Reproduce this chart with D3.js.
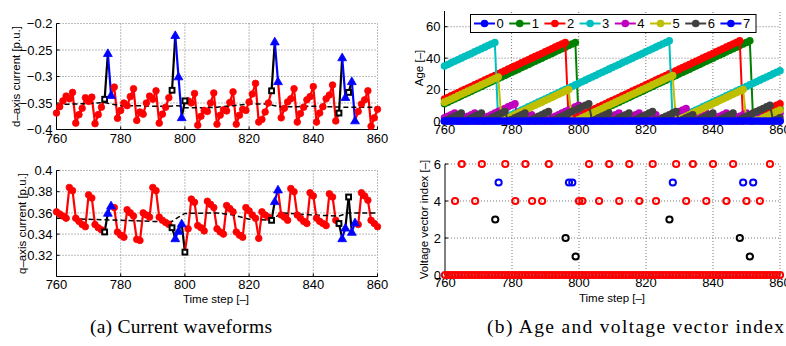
<!DOCTYPE html>
<html>
<head>
<meta charset="utf-8">
<script src="https://cdn.jsdelivr.net/npm/d3@7"></script>
<style>
  body { margin: 0; background: #fff; }
  svg { display: block; }
  text { font-family: "Liberation Sans", Arial, sans-serif; fill: #000; }
</style>
</head>
<body>
<svg id="chart" width="786" height="346"></svg>
<script>
// time axis shared by all four panels
const timeSteps = d3.range(760, 861);
const xTicks = [760, 780, 800, 820, 840, 860];

// (a) d-axis current, one value per time step
const idCurrent = [
  -0.369, -0.357, -0.346, -0.337, -0.342, -0.330, -0.388, -0.372, -0.360, -0.340,
  -0.347, -0.339, -0.389, -0.372, -0.358, -0.343, -0.256, -0.335, -0.320, -0.379,
  -0.364, -0.350, -0.355, -0.338, -0.323, -0.383, -0.367, -0.371, -0.350, -0.337,
  -0.343, -0.327, -0.388, -0.371, -0.358, -0.340, -0.326, -0.222, -0.300, -0.377,
  -0.346, -0.346, -0.350, -0.332, -0.392, -0.375, -0.364, -0.366, -0.350, -0.331,
  -0.390, -0.373, -0.363, -0.365, -0.349, -0.329, -0.390, -0.373, -0.362, -0.364,
  -0.348, -0.333, -0.313, -0.386, -0.381, -0.367, -0.350, -0.327, -0.234, -0.309,
  -0.378, -0.360, -0.348, -0.342, -0.323, -0.386, -0.370, -0.358, -0.344, -0.338,
  -0.319, -0.386, -0.369, -0.357, -0.342, -0.335, -0.316, -0.384, -0.369, -0.264,
  -0.339, -0.330, -0.309, -0.383, -0.366, -0.352, -0.344, -0.327, -0.394, -0.378,
  -0.362
];

// (a) q-axis current, one value per time step
const iqCurrent = [
  0.361, 0.359, 0.357, 0.355, 0.384, 0.381, 0.355, 0.352, 0.349, 0.347,
  0.377, 0.374, 0.349, 0.346, 0.344, 0.342, 0.360, 0.367, 0.365, 0.342,
  0.339, 0.337, 0.363, 0.360, 0.357, 0.335, 0.334, 0.360, 0.358, 0.356,
  0.384, 0.381, 0.356, 0.353, 0.351, 0.349, 0.346, 0.336, 0.343, 0.350,
  0.323, 0.345, 0.373, 0.370, 0.348, 0.346, 0.343, 0.371, 0.368, 0.365,
  0.345, 0.342, 0.340, 0.367, 0.364, 0.361, 0.342, 0.339, 0.337, 0.365,
  0.362, 0.358, 0.355, 0.336, 0.361, 0.358, 0.356, 0.353, 0.371, 0.382,
  0.358, 0.356, 0.353, 0.383, 0.380, 0.358, 0.355, 0.352, 0.350, 0.379,
  0.376, 0.355, 0.352, 0.350, 0.348, 0.378, 0.375, 0.353, 0.350, 0.336,
  0.346, 0.375, 0.342, 0.351, 0.349, 0.379, 0.376, 0.372, 0.353, 0.350,
  0.347
];

// steps drawn with black squares / blue triangles (rest are red circles)
const squareSteps = [775, 796, 800, 827, 848, 851];
const triangleSteps = [776, 777, 797, 798, 799, 828, 829, 849, 850, 852, 853];

// dashed reference curves
const idRefSteps = [760, 765, 770, 775, 777, 780, 785, 790, 795, 798, 800, 805, 810, 815, 820, 825, 828, 830, 835, 840, 845, 850, 855, 860];
const idRef = [-0.353, -0.352, -0.351, -0.349, -0.352, -0.355, -0.355, -0.356, -0.356, -0.355, -0.359, -0.359, -0.358, -0.355, -0.352, -0.352, -0.355, -0.357, -0.357, -0.356, -0.357, -0.358, -0.358, -0.358];
const iqRefSteps = [760, 770, 780, 790, 796, 798, 800, 810, 815, 820, 827, 830, 835, 840, 848, 851, 860];
const iqRef = [0.355, 0.354, 0.353, 0.352, 0.352, 0.356, 0.3595, 0.360, 0.358, 0.354, 0.353, 0.360, 0.359, 0.358, 0.357, 0.360, 0.360];

const idTicks = [-0.4, -0.35, -0.3, -0.25, -0.2];
const idTickLabels = ['\u22120.4', '\u22120.35', '\u22120.3', '\u22120.25', '\u22120.2'];
const iqTicks = [0.32, 0.34, 0.36, 0.38, 0.4];
const iqTickLabels = ['0.32', '0.34', '0.36', '0.38', '0.4'];

// (b) voltage vectors: zero vector every step, plus these active ones
const activeSteps = [763, 765, 769, 771, 775, 776, 778, 781, 784, 786, 789, 791, 796, 797, 798, 799, 800, 801,
  803, 806, 809, 812, 815, 818, 822, 823, 827, 828, 829, 832, 834, 838, 840, 844, 846, 848, 849, 850, 851, 852, 854, 857];
const activeVectors = [4, 6, 4, 6, 3, 5, 6, 4, 6, 4, 4, 6, 2, 5, 5, 1, 4, 4,
  6, 4, 6, 4, 6, 4, 6, 4, 3, 5, 6, 4, 6, 4, 6, 4, 6, 2, 5, 4, 1, 5, 4, 6];
const vectorTicks = [0, 2, 4, 6];

// (b) age of each vector at step 760
const vectorNames = ['0', '1', '2', '3', '4', '5', '6', '7'];
const ageAtStart = [0, 11, 14, 35, 2, 12, 0, 0];
const ageTicks = [0, 20, 40, 60];

const seriesColors = ['#0000ff', '#008000', '#ff0000', '#00bfbf', '#bf00bf', '#bfbf00', '#404040', '#0000ff'];
const RED = '#ff0000', BLUE = '#0000ff', BLACK = '#000000';

const svg = d3.select('#chart');

function makePanel(o) {
  const x = d3.scaleLinear().domain([760, 860]).range([o.left, o.right]);
  const y = d3.scaleLinear().domain(o.yDomain).range([o.bottom, o.top]);
  const g = svg.append('g');

  // dotted grid
  g.append('g').selectAll('line').data(xTicks.slice(1)).join('line')
    .attr('x1', d => x(d)).attr('x2', d => x(d))
    .attr('y1', o.bottom).attr('y2', o.top)
    .attr('stroke', '#7a7a7a').attr('stroke-dasharray', '1,2');
  g.append('g').selectAll('line').data(o.yTicks.filter(t => y(t) < o.bottom - 1)).join('line')
    .attr('x1', o.left).attr('x2', o.right)
    .attr('y1', d => y(d)).attr('y2', d => y(d))
    .attr('stroke', '#7a7a7a').attr('stroke-dasharray', '1,2');

  // axis lines and inward ticks
  g.append('line').attr('x1', o.left).attr('x2', o.left).attr('y1', o.bottom).attr('y2', o.top)
    .attr('stroke', BLACK);
  g.append('line').attr('x1', o.left).attr('x2', o.right).attr('y1', o.bottom).attr('y2', o.bottom)
    .attr('stroke', BLACK);
  g.append('g').selectAll('line').data(xTicks).join('line')
    .attr('x1', d => x(d)).attr('x2', d => x(d)).attr('y1', o.bottom).attr('y2', o.bottom - 3)
    .attr('stroke', BLACK);
  g.append('g').selectAll('line').data(o.yTicks).join('line')
    .attr('x1', o.left).attr('x2', o.left + 3).attr('y1', d => y(d)).attr('y2', d => y(d))
    .attr('stroke', BLACK);

  // tick labels
  g.append('g').selectAll('text').data(xTicks).join('text')
    .attr('x', d => x(d)).attr('y', o.bottom + o.xLabelGap)
    .attr('text-anchor', 'middle').attr('font-size', 13).text(d => d);
  g.append('g').selectAll('text').data(o.yTicks).join('text')
    .attr('x', o.left - 4).attr('y', d => y(d)).attr('dy', '0.36em')
    .attr('text-anchor', 'end').attr('font-size', 13).text((d, i) => o.yTickLabels[i]);

  // axis titles
  g.append('text')
    .attr('transform', `translate(${o.yTitleX},${o.yTitleY}) rotate(-90)`)
    .attr('text-anchor', 'middle').attr('dy', '0.35em').attr('font-size', 11.5)
    .text(o.yTitle);
  if (o.xTitle) {
    g.append('text').attr('x', o.xTitleX).attr('y', o.xTitleY)
      .attr('text-anchor', 'middle').attr('font-size', 11.5).text(o.xTitle);
  }
  return { x, y, g };
}

function drawCurrent(p, values, refSteps, refValues) {
  const kind = timeSteps.map(t => squareSteps.includes(t) ? 'square' : triangleSteps.includes(t) ? 'triangle' : 'circle');
  const segs = d3.pairs(d3.range(timeSteps.length));
  const segColor = ([a, b]) => {
    if (kind[a] === 'circle' || kind[b] === 'circle') return RED;
    if (kind[a] === 'square' || kind[b] === 'square') return BLACK;
    return BLUE;
  };
  p.g.append('g').selectAll('line').data(segs).join('line')
    .attr('x1', d => p.x(timeSteps[d[0]])).attr('y1', d => p.y(values[d[0]]))
    .attr('x2', d => p.x(timeSteps[d[1]])).attr('y2', d => p.y(values[d[1]]))
    .attr('stroke', segColor).attr('stroke-width', 2.2);

  // dashed reference
  p.g.append('path')
    .datum(d3.zip(refSteps, refValues))
    .attr('d', d3.line().x(d => p.x(d[0])).y(d => p.y(d[1])))
    .attr('fill', 'none').attr('stroke', BLACK).attr('stroke-width', 1.5)
    .attr('stroke-dasharray', '5,3');

  const pts = timeSteps.map((t, i) => ({ t, v: values[i], k: kind[i] }));
  p.g.append('g').selectAll('circle').data(pts.filter(d => d.k === 'circle')).join('circle')
    .attr('cx', d => p.x(d.t)).attr('cy', d => p.y(d.v)).attr('r', 3.3)
    .attr('fill', RED).attr('stroke', RED).attr('stroke-width', 0.8);
  p.g.append('g').selectAll('rect').data(pts.filter(d => d.k === 'square')).join('rect')
    .attr('x', d => p.x(d.t) - 2.4).attr('y', d => p.y(d.v) - 2.4).attr('width', 4.8).attr('height', 4.8)
    .attr('fill', '#fff').attr('stroke', BLACK).attr('stroke-width', 2);
  p.g.append('g').selectAll('path').data(pts.filter(d => d.k === 'triangle')).join('path')
    .attr('d', d3.symbol(d3.symbolTriangle, 34))
    .attr('transform', d => `translate(${p.x(d.t)},${p.y(d.v) + 0.8})`)
    .attr('fill', BLUE).attr('stroke', BLUE).attr('stroke-width', 0.8);
}

// ---------- (a) top: d-axis current ----------
const pd = makePanel({
  left: 56.5, right: 377.5, top: 23.5, bottom: 129.5,
  yDomain: [-0.4, -0.2], yTicks: idTicks, yTickLabels: idTickLabels, xLabelGap: 13,
  yTitle: 'd\u2013axis current [p.u.]', yTitleX: 16, yTitleY: 76.5
});
drawCurrent(pd, idCurrent, idRefSteps, idRef);

// ---------- (a) bottom: q-axis current ----------
const pq = makePanel({
  left: 56.5, right: 377.5, top: 170.5, bottom: 276.5,
  yDomain: [0.3, 0.4], yTicks: iqTicks, yTickLabels: iqTickLabels, xLabelGap: 12,
  yTitle: 'q\u2013axis current [p.u.]', yTitleX: 22, yTitleY: 223.5,
  xTitle: 'Time step [\u2013]', xTitleX: 216, xTitleY: 303
});
drawCurrent(pq, iqCurrent, iqRefSteps, iqRef);

// ---------- (b) top: age of each voltage vector ----------
const pa = makePanel({
  left: 444.5, right: 780, top: 11, bottom: 121,
  yDomain: [0, 70], yTicks: ageTicks, yTickLabels: ageTicks.map(String), xLabelGap: 13,
  yTitle: 'Age [\u2013]', yTitleX: 419, yTitleY: 68
});

// age series: counts steps since the vector was last applied
const usedAt = vectorNames.map(() => new Set());
activeSteps.forEach((t, i) => usedAt[activeVectors[i]].add(t));
const ageSeries = vectorNames.map((name, v) => {
  const out = [];
  let a = ageAtStart[v];
  timeSteps.forEach(t => {
    if (v === 0 || v === 7) a = 0;
    out.push({ t, a });
    a = usedAt[v].has(t) ? 0 : a + 1;
  });
  return out;
});

const ageLine = d3.line().x(d => pa.x(d.t)).y(d => pa.y(d.a));
ageSeries.forEach((s, v) => {
  const sg = pa.g.append('g');
  sg.append('path').datum(s).attr('d', ageLine)
    .attr('fill', 'none').attr('stroke', seriesColors[v]).attr('stroke-width', 2);
  sg.selectAll('circle').data(s).join('circle')
    .attr('cx', d => pa.x(d.t)).attr('cy', d => pa.y(d.a)).attr('r', 3.8)
    .attr('fill', seriesColors[v]);
});

// legend
const lg = pa.g.append('g');
lg.append('rect').attr('x', 470.5).attr('y', 14.5).attr('width', 285.5).attr('height', 18)
  .attr('fill', '#fff').attr('stroke', BLACK);
vectorNames.forEach((name, v) => {
  const x0 = 474 + v * 35.2;
  lg.append('line').attr('x1', x0).attr('x2', x0 + 21).attr('y1', 23.5).attr('y2', 23.5)
    .attr('stroke', seriesColors[v]).attr('stroke-width', 2);
  lg.append('circle').attr('cx', x0 + 10.5).attr('cy', 23.5).attr('r', 3.8).attr('fill', seriesColors[v]);
  lg.append('text').attr('x', x0 + 22.5).attr('y', 23.5).attr('dy', '0.36em')
    .attr('font-size', 13).text(name);
});

// ---------- (b) bottom: applied voltage vector index ----------
const pv = makePanel({
  left: 445, right: 780, top: 164, bottom: 275,
  yDomain: [0, 6], yTicks: vectorTicks, yTickLabels: vectorTicks.map(String), xLabelGap: 11.5,
  yTitle: 'Voltage vector index [\u2013]', yTitleX: 424, yTitleY: 219.5,
  xTitle: 'Time step [\u2013]', xTitleX: 612, xTitleY: 302
});
const vectorColor = d3.scaleOrdinal().domain([0, 1, 2, 3, 4, 5, 6])
  .range([RED, BLACK, BLACK, BLACK, RED, BLUE, RED]);
const vectorPoints = timeSteps.map(t => ({ t, v: 0 }))
  .concat(activeSteps.map((t, i) => ({ t, v: activeVectors[i] })));
pv.g.append('g').selectAll('circle').data(vectorPoints).join('circle')
  .attr('cx', d => pv.x(d.t)).attr('cy', d => pv.y(d.v)).attr('r', 3.1)
  .attr('fill', 'none').attr('stroke', d => vectorColor(d.v)).attr('stroke-width', 2);

// ---------- captions ----------
svg.append('text').attr('x', 90).attr('y', 333).attr('textLength', 182).attr('lengthAdjust', 'spacing')
  .style('font-family', '"Liberation Serif", "DejaVu Serif", serif').attr('font-size', 19.5)
  .text('(a) Current waveforms');
svg.append('text').attr('x', 487).attr('y', 333).attr('textLength', 297).attr('lengthAdjust', 'spacing')
  .style('font-family', '"Liberation Serif", "DejaVu Serif", serif').attr('font-size', 19.5)
  .text('(b) Age and voltage vector index');
</script>
</body>
</html>
